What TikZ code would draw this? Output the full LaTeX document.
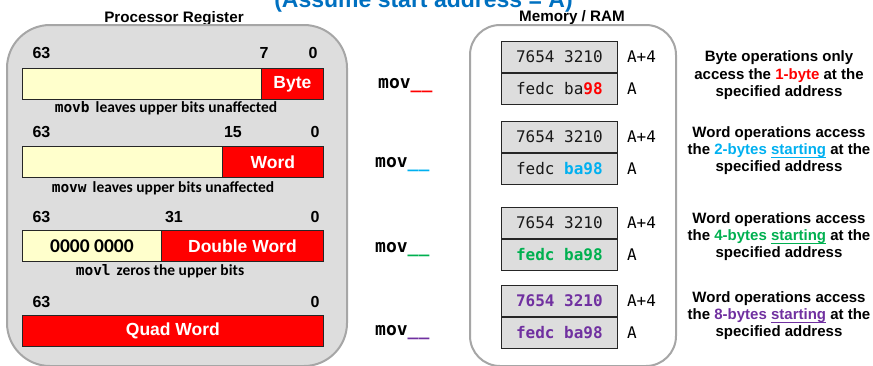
\documentclass[tikz,border=0pt]{standalone}
\usepackage{fontspec}
\setmainfont{Liberation Sans}
\newfontfamily\calfont{Carlito}
\newfontfamily\monofont{DejaVu Sans Mono}

\definecolor{panelgray}{HTML}{DDDDDD}
\definecolor{panelline}{HTML}{A6A6A6}
\definecolor{regred}{HTML}{FF0000}
\definecolor{regyellow}{HTML}{FFFFCC}
\definecolor{titleblue}{HTML}{0070C0}
\definecolor{wblue}{HTML}{00B0F0}
\definecolor{wgreen}{HTML}{00B050}
\definecolor{wpurple}{HTML}{7030A0}

% word with a thick underline in the current colour
\newcommand\ulword[1]{\setbox0=\hbox{#1}\leavevmode\rlap{\rule[\dimexpr-\dp0-1.0pt\relax]{\wd0}{1.4pt}}\box0}

\tikzset{
  panel/.style={draw=panelline, line width=2pt},
  heading/.style={anchor=base, inner sep=0pt, font=\bfseries\fontsize{15.2}{18}\selectfont},
  bitnum/.style={anchor=base, inner sep=0pt, font=\bfseries\fontsize{16}{19}\selectfont},
  bar/.style={draw=black!85, line width=0.8pt, anchor=north west, inner sep=0pt, minimum height=31pt},
  lowbar/.style={bar, fill=regyellow},
  highbar/.style={bar, fill=regred, text=white, font=\bfseries\fontsize{17.5}{20}\selectfont},
  caption/.style={anchor=base, inner sep=0pt, font=\calfont\bfseries\fontsize{15.5}{18}\selectfont},
  movlab/.style={anchor=base west, inner sep=0pt, font=\monofont\bfseries\fontsize{18}{20}\selectfont},
  cell/.style={draw=black!85, line width=0.8pt, fill=panelgray, inner sep=0pt, minimum width=116pt, minimum height=31pt, font=\monofont\fontsize{16}{18}\selectfont, text=black!90},
  addr/.style={anchor=west, inner sep=0pt, font=\monofont\fontsize{16}{18}\selectfont},
  desc/.style={anchor=base, inner sep=0pt, font=\bfseries\fontsize{15}{18}\selectfont},
}

\newcommand\capmono[1]{{\monofont\bfseries\fontsize{14.5}{17}\selectfont #1}}

\begin{document}
\begin{tikzpicture}[x=1pt, y=-1pt]
\useasboundingbox (0,0) rectangle (873,365);

% heading
\node[anchor=base, inner sep=0pt, text=titleblue, font=\bfseries\fontsize{23}{27}\selectfont] (title) at (423.5,7.5) {(Assume start address = A)};

% ---------------- processor register panel ----------------
\node[heading] (regtitle) at (174,22) {Processor Register};
\draw[panel, fill=panelgray, rounded corners=43pt] (7,25) rectangle (347,366);

% byte
\node[bitnum] (b63) at (41.5,58) {63};
\node[bitnum] (b7) at (264,58) {7};
\node[bitnum] (b0) at (313,58) {0};
\node[lowbar, minimum width=239pt] (byteup) at (22,68) {};
\node[highbar, minimum width=62pt] (bytelo) at (261,68) {Byte};
\node[caption] (bytecap) at (166,112) {\capmono{movb}\hspace{6pt}leaves upper bits unaffected};

% word
\node[bitnum] (w63) at (41.5,137) {63};
\node[bitnum] (w15) at (233,137) {15};
\node[bitnum] (w0) at (315,137) {0};
\node[lowbar, minimum width=200pt] (wordup) at (22,146) {};
\node[highbar, minimum width=101pt] (wordlo) at (222,146) {Word};
\node[caption] (wordcap) at (163,192) {\capmono{movw}\hspace{6pt}leaves upper bits unaffected};

% double word
\node[bitnum] (d63) at (41.5,222) {63};
\node[bitnum] (d31) at (174,222) {31};
\node[bitnum] (d0) at (315,222) {0};
\node[lowbar, minimum width=139pt, font=\calfont\bfseries\fontsize{19.5}{22}\selectfont] (dwordup) at (22,230) {0000 0000};
\node[highbar, minimum width=162pt] (dwordlo) at (161,230) {Double Word};
\node[caption] (dwordcap) at (160,275) {\capmono{movl}\hspace{6pt}zeros the upper bits};

% quad word
\node[bitnum] (q63) at (41.5,307) {63};
\node[bitnum] (q0) at (315,307) {0};
\node[highbar, minimum width=301pt] (qword) at (22,315) {Quad Word};

% ---------------- instruction suffixes ----------------
\node[movlab] (movb) at (378,88) {mov{\color{regred}\_\_}};
\node[movlab] (movw) at (375,167) {mov{\color{wblue}\_\_}};
\node[movlab] (movl) at (375,252) {mov{\color{wgreen}\_\_}};
\node[movlab] (movq) at (375,335) {mov{\color{wpurple}\_\_}};

% ---------------- memory panel ----------------
\node[heading] (memtitle) at (572,21) {Memory / RAM};
\draw[panel, fill=white, rounded corners=30pt] (470,25) rectangle (676,366);

\node[cell, anchor=north west] (m1hi) at (501,41) {7654 3210};
\node[cell, anchor=north] (m1lo) at (m1hi.south) {fedc ba{\bfseries\color{regred}98}};
\node[cell, anchor=north west] (m2hi) at (501,121) {7654 3210};
\node[cell, anchor=north] (m2lo) at (m2hi.south) {fedc {\bfseries\color{wblue}ba98}};
\node[cell, anchor=north west] (m3hi) at (501,207) {7654 3210};
\node[cell, anchor=north] (m3lo) at (m3hi.south) {{\bfseries\color{wgreen}fedc ba98}};
\node[cell, anchor=north west] (m4hi) at (501,285) {{\bfseries\color{wpurple}7654 3210}};
\node[cell, anchor=north] (m4lo) at (m4hi.south) {{\bfseries\color{wpurple}fedc ba98}};

\foreach \g in {1,2,3,4}{
  \node[addr, xshift=9pt] (a\g hi) at (m\g hi.east) {A+4};
  \node[addr, xshift=9pt] (a\g lo) at (m\g lo.east) {A};
}

% ---------------- descriptions ----------------
\node[desc] (d1a) at (779,61) {Byte operations only};
\node[desc] (d1b) at (779,79) {access the {\color{regred}1-byte} at the};
\node[desc] (d1c) at (779,96) {specified address};

\node[desc] (d2a) at (779,137) {Word operations access};
\node[desc] (d2b) at (779,154) {the {\color{wblue}2-bytes \ulword{starting}} at the};
\node[desc] (d2c) at (779,171) {specified address};

\node[desc] (d3a) at (779,223) {Word operations access};
\node[desc] (d3b) at (779,240) {the {\color{wgreen}4-bytes \ulword{starting}} at the};
\node[desc] (d3c) at (779,257) {specified address};

\node[desc] (d4a) at (779,302) {Word operations access};
\node[desc] (d4b) at (779,319) {the {\color{wpurple}8-bytes \ulword{starting}} at the};
\node[desc] (d4c) at (779,336) {specified address};
\end{tikzpicture}
\end{document}
